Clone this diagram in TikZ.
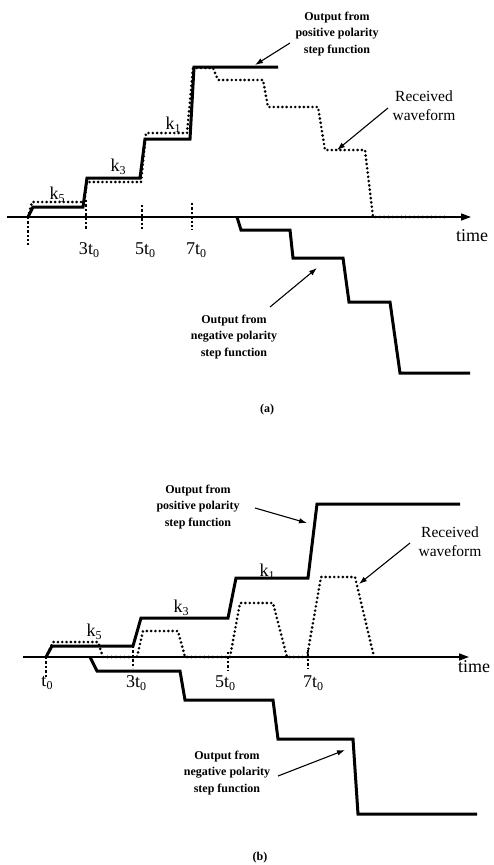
\documentclass[tikz,border=0pt]{standalone}
\usepackage{fontspec}
\setmainfont{Liberation Serif}
\usetikzlibrary{arrows.meta}
\newcommand{\tsubz}[1]{\raisebox{-0.35ex}{\fontsize{12}{12}\selectfont #1}}
\newcommand{\ksub}[1]{\raisebox{-0.35ex}{\fontsize{12}{12}\selectfont #1}}
\begin{document}
\begin{tikzpicture}[x=1pt,y=-1pt,
  stepline/.style={line width=3pt, line join=miter},
  recv/.style={line width=2.9pt, dash pattern=on 0pt off 4.3pt, line cap=round, line join=round},
  axisline/.style={line width=1.4pt, -{Triangle[length=10pt,width=7pt]}},
  tickline/.style={line width=1.3pt, dash pattern=on 2.4pt off 2pt},
  note/.style={font=\bfseries\fontsize{12}{16.5}\selectfont, align=center, inner sep=0pt},
  recvlabel/.style={font=\fontsize{15.5}{19}\selectfont, align=center, inner sep=0pt},
  tlabel/.style={font=\fontsize{18}{20}\selectfont, inner sep=0pt},
  klabel/.style={font=\fontsize{18}{18}\selectfont, inner sep=0pt},
  caplabel/.style={font=\bfseries\fontsize{12}{14}\selectfont, inner sep=0pt},
  pointer/.style={line width=1.1pt, -{Latex[length=8pt,width=5.5pt]}},
]
\useasboundingbox (0,0) rectangle (493,865);

% ================= panel (a) =================
\draw[axisline] (7,217) -- (471,217);
\node[tlabel, anchor=west] (timeA) at (456,236) {time};

\draw[tickline] (28,217) -- (28,245);
\draw[tickline] (86,200) -- (86,230);
\draw[tickline] (142,205) -- (142,230);
\draw[tickline] (192,203) -- (192,230);
\node[tlabel] (a3) at (89,250) {3t\tsubz{0}};
\node[tlabel] (a5) at (145,250) {5t\tsubz{0}};
\node[tlabel] (a7) at (196,250) {7t\tsubz{0}};

% positive polarity step output
\draw[stepline] (28,217) -- (33,207) -- (83,207) -- (87,178) -- (140,178)
  -- (145,139) -- (190,139) -- (194,67) -- (278,67);
% received waveform
\draw[recv] (28,217) -- (32,202) -- (84,202) -- (87,182) -- (141,182)
  -- (146,133) -- (187,133) -- (193,68) -- (213,68) -- (218,80) -- (263,80)
  -- (268,107) -- (318,107) -- (325,150) -- (365,150) -- (373,217) -- (445,217);
% negative polarity step output
\draw[stepline] (237,217) -- (241,230) -- (290,230) -- (293,258) -- (343,258)
  -- (349,302) -- (390,302) -- (400,373) -- (470,373);

\node[klabel] (ak5) at (57,195) {k\ksub{5}};
\node[klabel] (ak3) at (118,167) {k\ksub{3}};
\node[klabel] (ak1) at (173,125) {k\ksub{1}};

\node[note] (aPos) at (337,34) {Output from\\positive polarity\\step function};
\coordinate (aPosS) at (290,43);
\coordinate (aPosT) at (255,65);
\draw[pointer] (aPosS) -- (aPosT);

\node[recvlabel] (aRec) at (424,106) {Received\\waveform};
\coordinate (aRecS) at (388,108);
\coordinate (aRecT) at (337,150);
\draw[pointer] (aRecS) -- (aRecT);

\node[note] (aNeg) at (234,337) {Output from\\negative polarity\\step function};
\coordinate (aNegS) at (270,307);
\coordinate (aNegT) at (317,268);
\draw[pointer] (aNegS) -- (aNegT);

\node[caplabel] (capA) at (267,410) {(a)};

% ================= panel (b) =================
\draw[axisline] (23,657) -- (469,657);
\node[tlabel, anchor=west] (timeB) at (458,667) {time};

\draw[tickline] (46,657) -- (46,677);
\draw[tickline] (133,646) -- (133,668);
\draw[tickline] (228,652) -- (228,670);
\draw[tickline] (308,650) -- (308,668);
\node[tlabel] (b1) at (47,683) {t\tsubz{0}};
\node[tlabel] (b3) at (136,683) {3t\tsubz{0}};
\node[tlabel] (b5) at (225,683) {5t\tsubz{0}};
\node[tlabel] (b7) at (313,683) {7t\tsubz{0}};

% positive polarity step output
\draw[stepline] (46,657) -- (52,646) -- (133,646) -- (141,618) -- (228,618)
  -- (236,578) -- (308,578) -- (317,504) -- (460,504);
% received waveform
\draw[recv] (46,657) -- (53,642) -- (98,642) -- (103,657) -- (137,657)
  -- (143,631) -- (178,631) -- (185,657) -- (230,657) -- (240,603) -- (273,603)
  -- (287,657) -- (307,657) -- (321,577) -- (355,577) -- (374,657);
% negative polarity step output
\draw[stepline] (90,657) -- (97,671) -- (180,671) -- (185,700) -- (273,700)
  -- (278,739) -- (353,739) -- (358,814) -- (477,814);

\node[klabel] (bk5) at (94,632) {k\ksub{5}};
\node[klabel] (bk3) at (181,608) {k\ksub{3}};
\node[klabel] (bk1) at (267,572) {k\ksub{1}};

\node[note] (bPos) at (198,507) {Output from\\positive polarity\\step function};
\coordinate (bPosS) at (255,508);
\coordinate (bPosT) at (307,523);
\draw[pointer] (bPosS) -- (bPosT);

\node[recvlabel] (bRec) at (450,542) {Received\\waveform};
\coordinate (bRecS) at (410,543);
\coordinate (bRecT) at (359,584);
\draw[pointer] (bRecS) -- (bRecT);

\node[note] (bNeg) at (227,773) {Output from\\negative polarity\\step function};
\coordinate (bNegS) at (278,776);
\coordinate (bNegT) at (345,750);
\draw[pointer] (bNegS) -- (bNegT);

\node[caplabel] (capB) at (260,858) {(b)};
\end{tikzpicture}
\end{document}
